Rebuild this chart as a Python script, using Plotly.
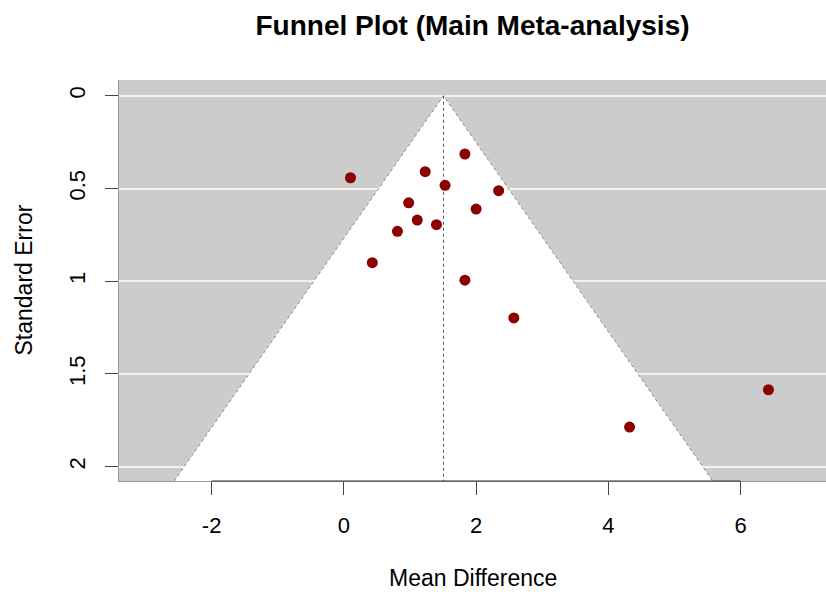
import plotly.graph_objects as go

# Data
effect = [0.10, 1.83, 1.23, 1.53, 2.34, 0.98, 2.00, 1.11, 1.40, 0.81, 0.43, 1.83, 2.57, 4.32, 6.42]
std_err = [0.442, 0.314, 0.409, 0.483, 0.512, 0.577, 0.611, 0.670, 0.695, 0.731, 0.900, 0.994, 1.198, 1.786, 1.585]
pooled = 1.506
z_crit = 1.96
x_ticks = [-2, 0, 2, 4, 6]
y_ticks = [0, 0.5, 1, 1.5, 2]
x_range = [-3.40, 7.29]
y_range = [2.077, -0.085]

FONT = "Liberation Sans, Arial, sans-serif"
se_max = y_range[0]

fig = go.Figure()

# pseudo-confidence funnel region
fx = [pooled - z_crit * se_max, pooled, pooled + z_crit * se_max]
fy = [se_max, 0, se_max]
fig.add_trace(go.Scatter(x=fx, y=fy, fill="toself", fillcolor="white",
                         mode="lines", line=dict(color="#888888", width=1, dash="dot"),
                         hoverinfo="skip", showlegend=False))
# vertical line at pooled estimate
fig.add_trace(go.Scatter(x=[pooled, pooled], y=[0, se_max], mode="lines",
                         line=dict(color="#555555", width=1, dash="dot"),
                         hoverinfo="skip", showlegend=False))
# studies
fig.add_trace(go.Scatter(x=effect, y=std_err, mode="markers",
                         marker=dict(color="#8B0000", size=11, line=dict(width=0)),
                         showlegend=False))

fig.update_layout(
    width=826, height=592,
    margin=dict(l=119, r=0, t=80, b=111),
    paper_bgcolor="white", plot_bgcolor="#CCCCCC",
    font=dict(family=FONT, size=22, color="black"),
    title=dict(text="<b>Funnel Plot (Main Meta-analysis)</b>", x=0.5, xref="paper",
               xanchor="center", y=0.957, yanchor="middle",
               font=dict(family=FONT, size=28, color="black")),
    xaxis=dict(range=x_range, tickvals=x_ticks, ticktext=[str(v) for v in x_ticks],
               showgrid=False, zeroline=False, showline=True, linecolor="#999999",
               ticks="outside", ticklen=13, tickcolor="#444444", tickwidth=1,
               ticklabelstandoff=12, tickfont=dict(size=22)),
    yaxis=dict(range=y_range, tickvals=y_ticks, ticktext=["0", "0.5", "1", "1.5", "2"],
               showgrid=True, gridcolor="#F2F2F2", gridwidth=1.5, zeroline=False,
               showline=True, linecolor="#999999",
               ticks="outside", ticklen=13, tickcolor="#444444", tickwidth=1,
               tickangle=-90, ticklabelstandoff=11, tickfont=dict(size=22)),
    shapes=[dict(type="line", xref="x", yref="paper", x0=x_ticks[0], x1=x_ticks[-1],
                 y0=0, y1=0, line=dict(color="#333333", width=1))],
    annotations=[
        dict(text="Mean Difference", xref="paper", yref="paper", x=0.5, y=0,
             xanchor="center", yanchor="middle", yshift=-97, showarrow=False,
             font=dict(family=FONT, size=23)),
        dict(text="Standard Error", xref="paper", yref="paper", x=0, y=0.5,
             xanchor="center", yanchor="middle", xshift=-96, textangle=-90,
             showarrow=False, font=dict(family=FONT, size=23)),
    ],
)

fig.write_html("out.html", config={"displayModeBar": False},
               post_script="document.body.style.margin='0px';")
